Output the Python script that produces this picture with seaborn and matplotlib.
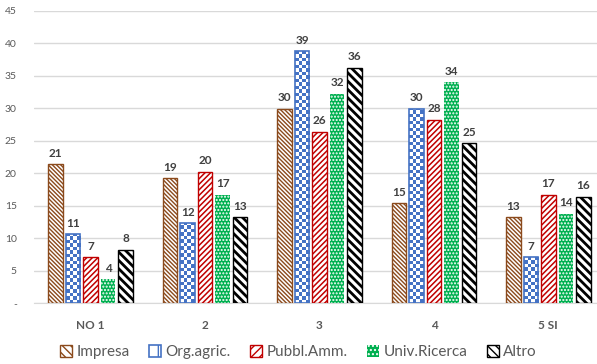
import matplotlib
matplotlib.use("Agg")
import matplotlib.pyplot as plt
import matplotlib.ticker as mticker
from matplotlib.colors import ListedColormap
from matplotlib.patches import Patch
import numpy as np
import pandas as pd
import seaborn as sns

categories = ["NO 1", "2", "3", "4", "5 SI"]
series = ["Impresa", "Org.agric.", "Pubbl.Amm.", "Univ.Ricerca", "Altro"]
impresa = [21.4, 19.2, 29.9, 15.4, 13.2]
org_agric = [10.6, 12.3, 38.7, 29.9, 7.1]
pubbl_amm = [7.1, 20.2, 26.4, 28.2, 16.7]
univ_ricerca = [3.7, 16.7, 32.2, 34.0, 13.8]
altro = [8.2, 13.2, 36.2, 24.6, 16.4]
y_ticks = [0, 5, 10, 15, 20, 25, 30, 35, 40, 45]

colors = ["#8B4A1C", "#4472C4", "#C00000", "#00B050", "#000000"]
hatches = ["\\" * 8, None, "/" * 6, "." * 5, "\\" * 4]
hatch_lw = [1.0, 1.0, 1.1, 1.0, 2.0]
CELL_PX = 3.5  # checker square size for Org.agric.

df = pd.DataFrame({
    "cat": np.repeat(categories, len(series)),
    "serie": series * len(categories),
    "val": np.array([impresa, org_agric, pubbl_amm, univ_ricerca, altro]).T.ravel(),
})

sns.set_style("white")
plt.rcParams["font.family"] = ["Lato", "DejaVu Sans"]

fig = plt.figure(figsize=(5.97, 3.64), dpi=100)
ax = fig.add_axes([33.5 / 597, 1 - 303.3 / 364, 572 / 597, 292.8 / 364])

sns.barplot(data=df, x="cat", y="val", hue="serie", hue_order=series,
            order=categories, width=0.765, gap=0.17, ax=ax, legend=False,
            saturation=1)
ax.set_ylim(0, 45)
ax.set_xlim(-0.5, 4.5)

# data units per pixel, used to size the checker squares
(px0, py0), (px1, py1) = ax.transData.transform([(0, 0), (1, 1)])
dx_per_px = 1 / (px1 - px0)
dy_per_px = 1 / (py1 - py0)
checker_cmap = ListedColormap(["white", colors[1]])

for i, cont in enumerate(ax.containers):
    for p in cont.patches:
        p.set_zorder(3)
        if series[i] == "Univ.Ricerca":
            p.set_facecolor(colors[i])
            p.set_edgecolor("white")
            p.set_linewidth(0)
        elif series[i] == "Org.agric.":
            p.set_facecolor("none")
            p.set_edgecolor(colors[i])
            p.set_linewidth(1.2)
            x0, w, h = p.get_x(), p.get_width(), p.get_height()
            ncol = max(1, int(round(w / dx_per_px / CELL_PX)))
            cw = w / ncol
            ch = CELL_PX * dy_per_px
            nrow = int(np.ceil(h / ch))
            grid = (np.indices((nrow, ncol)).sum(axis=0) % 2)
            im = ax.imshow(grid, cmap=checker_cmap, origin="lower",
                           extent=(x0, x0 + cw * ncol, 0, ch * nrow),
                           aspect="auto", interpolation="nearest", zorder=2)
            im.set_clip_path(p)
        else:
            p.set_facecolor("white")
            p.set_edgecolor(colors[i])
            p.set_linewidth(1.0)
        if hatches[i]:
            p.set_hatch(hatches[i])
            if hasattr(p, "set_hatch_linewidth"):
                p.set_hatch_linewidth(hatch_lw[i])
    ax.bar_label(cont, fmt="%.0f", padding=4, fontsize=8.5, fontweight="bold",
                 color="#404040")

ax.set_ylim(0, 45)
ax.set_xlim(-0.5, 4.5)
ax.set_yticks(y_ticks)
ax.yaxis.set_major_formatter(mticker.FuncFormatter(lambda v, _: "-" if v == 0 else f"{v:.0f}"))
ax.grid(axis="y", color="#D9D9D9", linewidth=1)
ax.set_axisbelow(True)
for s in ["top", "right", "left"]:
    ax.spines[s].set_visible(False)
ax.spines["bottom"].set_color("#D9D9D9")
ax.tick_params(axis="y", length=0, labelsize=7.5, labelcolor="#595959", pad=12)
ax.tick_params(axis="x", length=0, labelsize=8.5, labelcolor="#595959", pad=12)
for t in ax.get_xticklabels():
    t.set_fontweight("bold")
ax.set_xlabel("")
ax.set_ylabel("")

handles = []
for i, name in enumerate(series):
    if name == "Univ.Ricerca":
        h = Patch(facecolor=colors[i], edgecolor="white", hatch="." * 4, linewidth=0)
    elif name == "Org.agric.":
        h = Patch(facecolor="white", edgecolor=colors[i], hatch="+", linewidth=1.2)
    else:
        h = Patch(facecolor="white", edgecolor=colors[i], hatch=hatches[i][:4], linewidth=1.0)
    handles.append(h)

fig.legend(handles=handles, labels=series, loc="lower center",
           bbox_to_anchor=(0.5, -0.025), ncol=5, frameon=False, fontsize=11,
           handlelength=0.75, handleheight=0.75, handletextpad=0.3,
           columnspacing=1.3, labelcolor="#595959")

fig.savefig("out.png", dpi=100)
